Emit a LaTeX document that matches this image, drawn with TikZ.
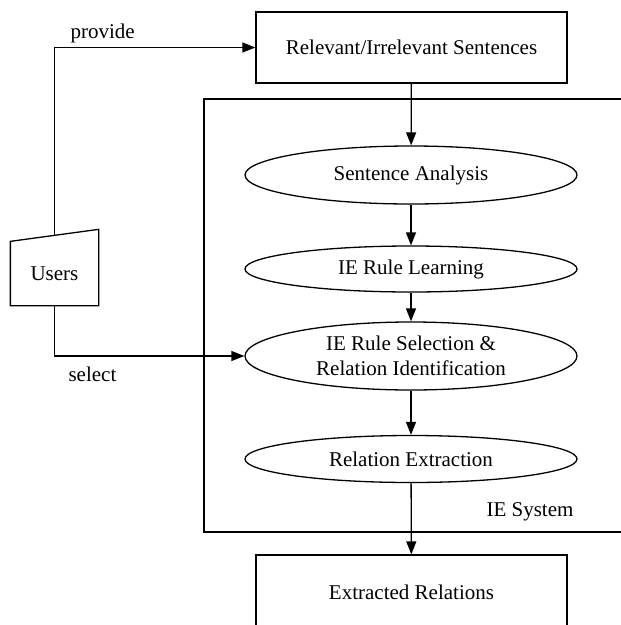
\documentclass[tikz,border=0pt]{standalone}
\usepackage{fontspec}
\setmainfont{Liberation Serif}
\usetikzlibrary{shapes.geometric,arrows.meta}
\begin{document}
\begin{tikzpicture}[x=1pt, y=-1pt, >={Triangle[length=13pt,width=10pt]}, line width=1.3pt,
  font=\fontsize{21}{25}\selectfont,
  box/.style={draw, rectangle, minimum width=311pt, inner sep=0pt},
  stage/.style={draw, ellipse, minimum width=332pt, inner sep=0pt, align=center}]
  \clip (0,0) rectangle (621,625);
  % IE system frame, open to the right
  \draw (640,99) -- (204,99) -- (204,532) -- (640,532);
  \node (iesys) at (530,512) {IE System};
  \node[box, minimum height=71pt] (relevant) at (411.5,47.5) {Relevant/Irrelevant Sentences};
  \node[box, minimum height=74pt] (extracted) at (411.5,592) {Extracted Relations};
  \node[stage, minimum height=58pt] (analysis) at (411,175) {Sentence Analysis};
  \node[stage, minimum height=46pt] (learning) at (411,269) {IE Rule Learning};
  \node[stage, minimum height=68pt] (selection) at (411,356) {IE Rule Selection \&\\Relation Identification};
  \node[stage, minimum height=47pt] (extraction) at (411,459) {Relation Extraction};
  % users: manual input shape
  \node[minimum width=87pt, minimum height=63pt, inner sep=0pt] (users) at (54.5,273.5) {Users};
  \draw (users.south west) -- (users.south east) -- ([yshift=12pt]users.north east)
    -- (users.north west) -- cycle;
  \draw[->] ([yshift=6pt]users.north) |- (relevant.west) node[pos=0.62, above=1pt] {provide};
  \draw[->] (users.south) |- (selection.west) node[pos=0.6, below=7pt] {select};
  \draw[->] (relevant) -- (analysis);
  \draw[->] (analysis) -- (learning);
  \draw[->] (learning) -- (selection);
  \draw[->] (selection) -- (extraction);
  \draw[->] (extraction) -- (extracted);
\end{tikzpicture}
\end{document}
